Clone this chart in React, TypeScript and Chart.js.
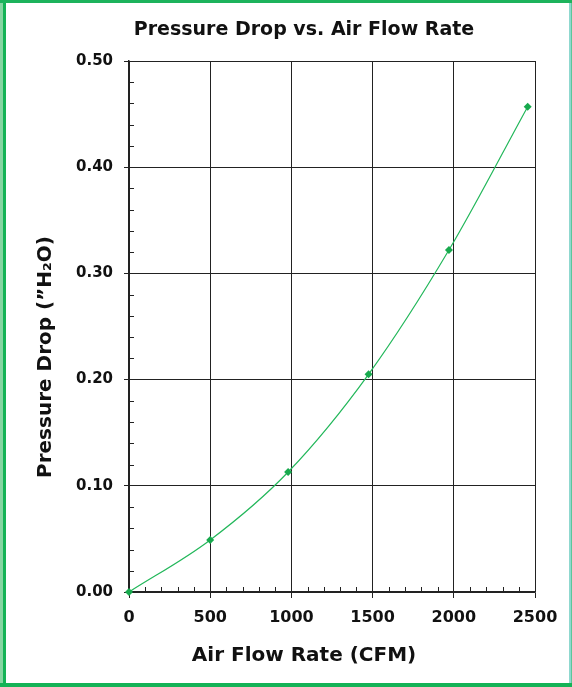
import React, { useEffect, useRef } from "react";
import { Chart, registerables } from "chart.js";

Chart.register(...registerables);

const flowRates = [0, 500, 980, 1475, 1970, 2455];
const pressureDrops = [0, 0.049, 0.113, 0.205, 0.322, 0.457];
const xTicks = [0, 500, 1000, 1500, 2000, 2500];
const yTicks = [0, 0.1, 0.2, 0.3, 0.4, 0.5];
const xMinorStep = 100;
const yMinorStep = 0.02;
const chartTitle = "Pressure Drop vs. Air Flow Rate";
const xTitle = "Air Flow Rate (CFM)";
const yTitle = "Pressure Drop (\u201DH\u2082O)";

const GREEN = "#17a94d";
const LINE_GREEN = "#22b75a";
const FONT = "'DejaVu Sans', sans-serif";

const minorTicksPlugin = {
  id: "minorTicks",
  beforeDatasetsDraw(chart: any) {
    const { ctx, chartArea: a, scales } = chart;
    const x = scales.x;
    const y = scales.y;
    ctx.save();
    ctx.strokeStyle = "#222";
    ctx.lineWidth = 1;
    ctx.beginPath();
    const xMaj = xTicks[1] - xTicks[0];
    for (let v = xTicks[0] + xMinorStep; v < xTicks[xTicks.length - 1]; v += xMinorStep) {
      if (Math.abs(v / xMaj - Math.round(v / xMaj)) < 1e-6) continue;
      const px = Math.round(x.getPixelForValue(v)) + 0.5;
      ctx.moveTo(px, a.bottom);
      ctx.lineTo(px, a.bottom - 5);
    }
    const yMaj = yTicks[1] - yTicks[0];
    const n = Math.round((yTicks[yTicks.length - 1] - yTicks[0]) / yMinorStep);
    for (let i = 1; i < n; i++) {
      const v = yTicks[0] + i * yMinorStep;
      if (Math.abs(v / yMaj - Math.round(v / yMaj)) < 1e-6) continue;
      const py = Math.round(y.getPixelForValue(v)) + 0.5;
      ctx.moveTo(a.left, py);
      ctx.lineTo(a.left + 5, py);
    }
    ctx.stroke();
    ctx.restore();
  },
  afterDraw(chart: any) {
    const { ctx } = chart;
    ctx.save();
    ctx.fillStyle = "#111";
    ctx.textAlign = "center";
    ctx.textBaseline = "alphabetic";
    ctx.font = `bold 19px ${FONT}`;
    ctx.fillText(chartTitle, 304, 35);
    ctx.font = `bold 20px ${FONT}`;
    ctx.fillText(xTitle, 304, 661);
    ctx.translate(51, 357);
    ctx.rotate(-Math.PI / 2);
    ctx.fillText(yTitle, 0, 0);
    ctx.restore();
  },
};

export default function App() {
  const ref = useRef<HTMLCanvasElement>(null);
  useEffect(() => {
    if (!ref.current) return;
    const chart = new Chart(ref.current, {
      type: "line",
      data: {
        datasets: [
          {
            data: flowRates.map((x, i) => ({ x, y: pressureDrops[i] })),
            borderColor: LINE_GREEN,
            backgroundColor: GREEN,
            borderWidth: 1.2,
            pointStyle: "rectRot",
            pointRadius: 4,
            pointBackgroundColor: GREEN,
            pointBorderColor: GREEN,
            pointBorderWidth: 0,
            cubicInterpolationMode: "monotone",
            clip: false,
          } as any,
        ],
      },
      options: {
        animation: false,
        responsive: false,
        layout: { padding: { top: 61, right: 37, left: 0, bottom: 0 } },
        plugins: {
          legend: { display: false },
          title: { display: false },
          tooltip: { enabled: false },
        },
        scales: {
          x: {
            type: "linear",
            min: xTicks[0],
            max: xTicks[xTicks.length - 1],
            afterFit: (s: any) => {
              s.height = 95;
            },
            ticks: {
              stepSize: xTicks[1] - xTicks[0],
              color: "#111",
              padding: 10,
              maxRotation: 0,
              callback: (v: any) => String(v),
              font: { family: FONT, weight: "bold", size: 16 },
            },
            grid: { color: "#222", lineWidth: 1, tickLength: 6, drawTicks: true },
            border: { color: "#222", width: 1.5 },
          },
          y: {
            type: "linear",
            min: yTicks[0],
            max: yTicks[yTicks.length - 1],
            afterFit: (s: any) => {
              s.width = 129;
            },
            ticks: {
              stepSize: yTicks[1] - yTicks[0],
              color: "#111",
              padding: 11,
              callback: (v: any) => Number(v).toFixed(2),
              font: { family: FONT, weight: "bold", size: 15 },
            },
            grid: { color: "#222", lineWidth: 1, tickLength: 5, drawTicks: true },
            border: { color: "#222", width: 1.5 },
          },
        },
      } as any,
      plugins: [minorTicksPlugin],
    });
    return () => chart.destroy();
  }, []);

  return (
    <div
      style={{
        position: "absolute",
        left: 0,
        top: 0,
        width: 572,
        height: 687,
        background: "#fff",
      }}
    >
      <div style={{ position: "absolute", left: 0, top: 0, width: 3, height: 687, background: "#86d6a2" }} />
      <div style={{ position: "absolute", left: 3, top: 0, width: 3, height: 687, background: "#14b356" }} />
      <div style={{ position: "absolute", left: 0, top: 0, width: 572, height: 3, background: "#1db35c" }} />
      <div style={{ position: "absolute", left: 0, top: 683, width: 572, height: 4, background: "#14b356" }} />
      <div style={{ position: "absolute", left: 569, top: 3, width: 2, height: 680, background: "#8fd8cf" }} />
      <div style={{ position: "absolute", left: 571, top: 3, width: 1, height: 680, background: "#5cc79a" }} />
      <canvas
        ref={ref}
        width={572}
        height={687}
        style={{ position: "absolute", left: 0, top: 0, width: 572, height: 687 }}
      />
    </div>
  );
}
